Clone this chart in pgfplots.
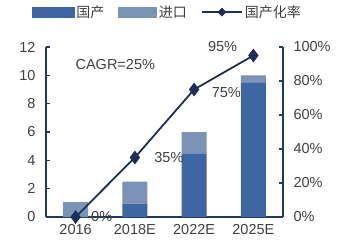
\documentclass[border=0pt]{standalone}
\usepackage{pgfplots}
\pgfplotsset{compat=1.18}
\usepackage{fontspec}
\setmainfont{Liberation Sans}
\newfontfamily\cjk{Noto Sans CJK SC}
\definecolor{domestic}{HTML}{3E66A3}
\definecolor{imported}{HTML}{7B93B6}
\definecolor{navy}{HTML}{1B2F57}
\definecolor{axisc}{HTML}{1F3A5A}
\definecolor{txt}{HTML}{404040}
\begin{document}
\begin{tikzpicture}[x=1bp,y=1bp,font=\fontsize{14.5bp}{16bp}\selectfont]
\useasboundingbox (-46,-30) rectangle (294,217);
\pgfplotsset{
  base/.style={
    at={(0,0)}, anchor=south west, scale only axis,
    width=237bp, height=170bp,
    xmin=-0.5, xmax=3.5,
    axis line style={axisc, line width=1.6pt},
    tick style={axisc, line width=1.2pt},
    major tick length=4bp,
    tick label style={txt},
    /pgf/number format/assume math mode=true,
    clip=false,
  }
}
\begin{axis}[base,
  axis y line*=left, axis x line*=bottom,
  ymin=0, ymax=12, ytick={0,2,...,12},
  ybar stacked, bar width=25bp,
  xtick={0,1,2,3}, xticklabels={2016,2018E,2022E,2025E},
  extra x ticks={0.5,1.5,2.5}, extra x tick labels={},
  extra x tick style={major tick length=6bp, tick align=inside},
  major x tick style={draw=none},
  xticklabel style={yshift=-4bp},
  yticklabel style={xshift=-7bp},
  tick align=inside,
]
\addplot[fill=domestic, draw=none] coordinates {(0,0) (1,0.95) (2,4.5) (3,9.5)};
\addplot[fill=imported, draw=none] coordinates {(0,1.05) (1,1.55) (2,1.5) (3,0.5)};
\node[txt, anchor=west] at (axis cs:-0.06,10.75) {CAGR=25\%};
\end{axis}
\begin{axis}[base,
  axis y line*=right, axis x line=none,
  ymin=0, ymax=100, ytick={0,20,...,100},
  yticklabel={\pgfmathprintnumber{\tick}\%},
  yticklabel style={xshift=7bp},
  tick align=inside,
  legend style={at={(0.5,1)}, anchor=south, yshift=24bp, xshift=3bp, draw=none, fill=none,
    legend columns=3, font=\fontsize{14bp}{16bp}\selectfont\cjk\color{txt},
    /tikz/every even column/.append style={column sep=12bp}},
]
\addlegendimage{legend image code/.code={\fill[domestic] (0bp,-5bp) rectangle (42bp,5bp);}}
\addlegendentry{国产}
\addlegendimage{legend image code/.code={\fill[imported] (0bp,-5bp) rectangle (38bp,5bp);}}
\addlegendentry{进口}
\addlegendimage{legend image code/.code={\draw[navy, line width=2.2pt] (0bp,0bp) -- (40bp,0bp); \fill[navy] (20bp,0bp) +(-4bp,0) -- +(0,4bp) -- +(4bp,0) -- +(0,-4bp) -- cycle;}}
\addlegendentry{国产化率}
\addplot[navy, line width=1.8pt, mark=diamond*, mark size=5.5bp]
  table {
x y
0 0
1 35
2 75
3 95
};
% value labels beside each point
\node[txt] at (axis cs:0.44,0) {0\%};
\node[txt, anchor=west] at (axis cs:1.27,35) {35\%};
\node[txt, anchor=west] at (axis cs:2.24,73) {75\%};
\node[txt] at (axis cs:2.48,100.5) {95\%};
\end{axis}
\end{tikzpicture}
\end{document}
